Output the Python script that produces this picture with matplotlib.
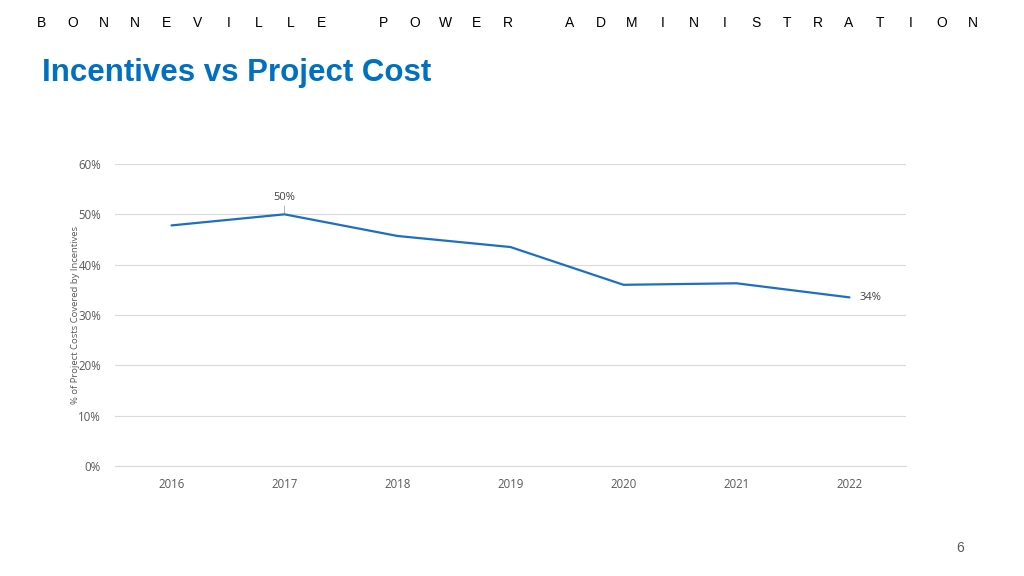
import matplotlib.pyplot as plt
import numpy as np

years = ['2016', '2017', '2018', '2019', '2020', '2021', '2022']
share = [0.478, 0.500, 0.457, 0.435, 0.360, 0.363, 0.335]
yticks = [0, 0.1, 0.2, 0.3, 0.4, 0.5, 0.6]

header = 'BONNEVILLE POWER ADMINISTRATION'

fig = plt.figure(figsize=(10.24, 5.76), dpi=100)
ax = fig.add_axes([115/1024, 1 - 466/576, (906 - 115)/1024, (466 - 164)/576])

x = np.arange(len(years))
ax.plot(x, share, color='#1F6FBF', lw=1.6, solid_capstyle='round')

ax.set_xlim(-0.5, len(years) - 0.5)
ax.set_ylim(0, 0.6)
ax.set_yticks(yticks)
ax.set_yticklabels(['{:.0f}%'.format(v * 100) for v in yticks])
ax.set_xticks(x)
ax.set_xticklabels(years)
ax.grid(axis='y', color='#D9D9D9', lw=0.8)
ax.set_axisbelow(True)
for s in ['top', 'right', 'left']:
    ax.spines[s].set_visible(False)
ax.spines['bottom'].set_color('#D9D9D9')
ax.tick_params(length=0, labelsize=8.3, labelcolor='#595959', pad=8.3)
ax.tick_params(axis='y', pad=10)
for lab in ax.get_xticklabels() + ax.get_yticklabels():
    lab.set_family('Open Sans')
ax.set_ylabel('% of Project Costs Covered by Incentives', fontsize=6.8,
              color='#595959', family='Open Sans', labelpad=-1)

# data labels
ax.annotate('50%', xy=(1, share[1]), xytext=(0, 8), textcoords='offset points',
            ha='center', va='bottom', fontsize=8, color='#404040', family='Open Sans',
            arrowprops=dict(arrowstyle='-', color='#A6A6A6', lw=0.6, shrinkA=0, shrinkB=1))
ax.annotate('34%', xy=(6, share[6]), xytext=(7, 0), textcoords='offset points',
            ha='left', va='center', fontsize=8, color='#404040', family='Open Sans')

# header
x0, x1 = 42/1024, 973/1024
step = (x1 - x0) / (len(header) - 1)
for i, ch in enumerate(header):
    if ch != ' ':
        fig.text(x0 + i * step, 1 - 23/576, ch, ha='center', va='center',
                 fontsize=10, family=['Liberation Sans Narrow', 'Liberation Sans'],
                 color='#000000')

fig.text(42/1024, 1 - 73/576, 'Incentives vs Project Cost', ha='left', va='center',
         fontsize=22.5, fontweight='bold',
         family=['Liberation Sans Narrow', 'Liberation Sans'], color='#0070C0')
fig.text(960/1024, 1 - 548/576, '6', ha='center', va='center', fontsize=10,
         family='Liberation Sans', color='#595959')

fig.savefig('out.png', dpi=100)
